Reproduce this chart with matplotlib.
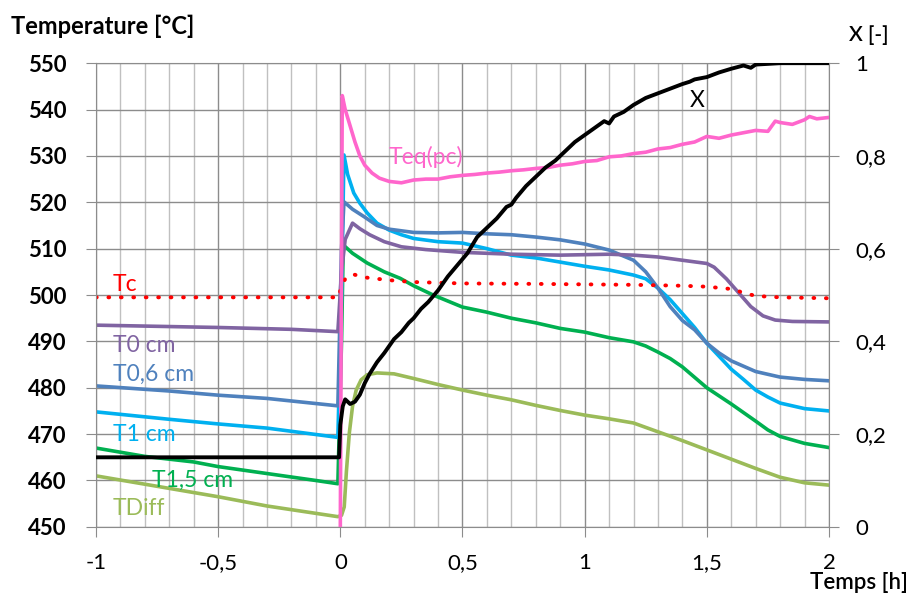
import matplotlib
matplotlib.use("Agg")
import matplotlib.pyplot as plt
from matplotlib.ticker import MultipleLocator

plt.rcParams['font.family'] = ['Lato', 'DejaVu Sans']

# time [h]
t_tc = [-1, -0.005, 0.0, 0.02, 0.05, 0.1, 0.2, 0.3, 0.5, 0.8, 1.0, 1.2, 1.4, 1.5, 1.6, 1.65, 1.7, 1.8, 2.0]
tc = [499.5, 499.5, 501, 503.5, 504.5, 503.8, 503.2, 502.8, 502.5, 502.4, 502.3, 502.2, 502, 501.8, 501.3, 500.5, 499.8, 499.5, 499.3]

t_teq = [0.0, 0.008, 0.02, 0.04, 0.06, 0.08, 0.10, 0.13, 0.16, 0.20, 0.25, 0.30, 0.35, 0.40, 0.45, 0.50,
         0.55, 0.60, 0.65, 0.70, 0.75, 0.80, 0.85, 0.90, 0.95, 1.00, 1.05, 1.10, 1.15, 1.20, 1.25, 1.30,
         1.35, 1.40, 1.45, 1.50, 1.55, 1.60, 1.65, 1.70, 1.75, 1.78, 1.80, 1.85, 1.90, 1.92, 1.95, 2.0]
teq = [450, 543, 540, 536.5, 533, 530, 528, 526.3, 525.2, 524.5, 524.2, 524.8, 525, 525, 525.5, 525.8,
       526, 526.3, 526.5, 526.8, 527, 527.3, 527.5, 528, 528.3, 528.8, 529, 529.8, 530, 530.5, 530.8, 531.5,
       531.8, 532.5, 533, 534.2, 533.8, 534.5, 535, 535.5, 535.3, 537.5, 537.2, 536.8, 537.8, 538.5, 538, 538.3]

t_t0 = [-1, -0.5, -0.2, -0.01, 0.005, 0.02, 0.05, 0.08, 0.12, 0.18, 0.25, 0.35, 0.5, 0.7, 0.9, 1.1, 1.2,
        1.3, 1.4, 1.5, 1.53, 1.58, 1.63, 1.68, 1.73, 1.78, 1.85, 2.0]
t0 = [493.5, 493, 492.6, 492.1, 505, 512, 515.5, 514.3, 513, 511.5, 510.4, 509.8, 509.2, 508.8, 508.6, 508.8, 508.6,
      508.2, 507.5, 506.8, 506, 503.5, 500.5, 497.5, 495.5, 494.6, 494.3, 494.2]

t_t06 = [-1, -0.7, -0.5, -0.3, -0.01, 0.005, 0.015, 0.05, 0.1, 0.15, 0.2, 0.3, 0.4, 0.5, 0.6, 0.7, 0.8, 0.9,
         1.0, 1.1, 1.2, 1.25, 1.3, 1.35, 1.4, 1.45, 1.5, 1.55, 1.6, 1.7, 1.8, 1.9, 2.0]
t06 = [480.4, 479.3, 478.4, 477.7, 476.1, 510, 520.1, 518.5, 516.8, 515, 514.2, 513.5, 513.4, 513.5, 513.2, 513, 512.5, 511.9,
       511, 509.7, 507.5, 505, 501.5, 497.5, 494.5, 492.5, 489.6, 487.5, 485.8, 483.5, 482.3, 481.8, 481.5]

t_t1 = [-1, -0.7, -0.5, -0.3, -0.01, 0.005, 0.015, 0.03, 0.055, 0.08, 0.11, 0.15, 0.2, 0.25, 0.3, 0.4, 0.5, 0.6,
        0.7, 0.8, 0.9, 1.0, 1.1, 1.2, 1.25, 1.3, 1.35, 1.4, 1.45, 1.5, 1.55, 1.6, 1.65, 1.7, 1.75, 1.8, 1.9, 2.0]
t1 = [474.8, 473.2, 472.2, 471.3, 469.3, 500, 530.2, 526, 522, 519.8, 517.7, 515.5, 514, 513, 512.2, 511.5, 511.2, 510,
      508.6, 508, 507.1, 506.2, 505.4, 504.3, 503.5, 501.5, 499, 496, 493, 489.6, 486.8, 484, 481.8, 479.5, 478, 476.7, 475.5, 475]

t_t15 = [-1, -0.8, -0.6, -0.5, -0.3, -0.1, -0.01, 0.005, 0.012, 0.05, 0.11, 0.18, 0.245, 0.3, 0.38, 0.5, 0.6,
         0.7, 0.8, 0.9, 1.0, 1.1, 1.2, 1.25, 1.3, 1.35, 1.4, 1.5, 1.6, 1.7, 1.75, 1.8, 1.9, 2.0]
t15 = [467, 465.2, 464, 463, 461.5, 460, 459.3, 490, 510.8, 509, 506.9, 505, 503.6, 502, 500, 497.4, 496.3,
       495, 494, 492.8, 492, 490.8, 489.9, 489, 487.7, 486.3, 484.5, 480, 476.5, 472.8, 470.9, 469.5, 468, 467.1]

t_diff = [-1, -0.7, -0.5, -0.3, -0.01, 0.005, 0.016, 0.025, 0.037, 0.05, 0.065, 0.085, 0.11, 0.15, 0.22, 0.3,
          0.4, 0.5, 0.6, 0.7, 0.8, 0.9, 1.0, 1.1, 1.2, 1.3, 1.4, 1.5, 1.6, 1.7, 1.8, 1.9, 2.0]
tdiff = [461, 458.3, 456.5, 454.5, 452.2, 452.5, 454.3, 462, 470.3, 476, 479.5, 481.7, 482.8, 483.2, 483, 482,
         480.7, 479.5, 478.4, 477.4, 476.2, 475.1, 474.1, 473.3, 472.4, 470.5, 468.6, 466.6, 464.6, 462.6, 460.7, 459.5, 459]

# conversion X (right axis)
t_x = [-1, -0.005, 0.0, 0.01, 0.02, 0.04, 0.06, 0.08, 0.10, 0.12, 0.15, 0.18, 0.20, 0.22, 0.25, 0.28, 0.30,
       0.33, 0.36, 0.40, 0.44, 0.48, 0.52, 0.56, 0.60, 0.64, 0.68, 0.70, 0.72, 0.76, 0.80, 0.84, 0.88, 0.90,
       0.92, 0.96, 1.00, 1.04, 1.08, 1.10, 1.12, 1.16, 1.20, 1.25, 1.30, 1.35, 1.40, 1.43, 1.45, 1.50, 1.55,
       1.60, 1.65, 1.68, 1.70, 1.80, 1.90, 2.0]
conv = [0.15, 0.15, 0.22, 0.26, 0.275, 0.265, 0.27, 0.285, 0.31, 0.33, 0.355, 0.375, 0.39, 0.405, 0.42, 0.44, 0.45,
        0.47, 0.485, 0.51, 0.54, 0.565, 0.59, 0.625, 0.645, 0.665, 0.69, 0.695, 0.71, 0.735, 0.755, 0.775, 0.79, 0.80,
        0.81, 0.83, 0.845, 0.86, 0.875, 0.87, 0.885, 0.895, 0.91, 0.925, 0.935, 0.945, 0.955, 0.96, 0.965, 0.97, 0.98,
        0.988, 0.995, 0.99, 0.997, 1.0, 1.0, 1.0]

xticks = [-1, -0.5, 0, 0.5, 1, 1.5, 2]
xtick_labels = ['-1', '-0,5', '0', '0,5', '1', '1,5', '2']
yticks = [450, 460, 470, 480, 490, 500, 510, 520, 530, 540, 550]
y2ticks = [0, 0.2, 0.4, 0.6, 0.8, 1]
y2tick_labels = ['0', '0,2', '0,4', '0,6', '0,8', '1']

fig = plt.figure(figsize=(9.14, 5.96), dpi=100)
ax = fig.add_axes([0.105, 0.116, 0.802, 0.778])

lw = 2.6
ax.plot(t_diff, tdiff, color='#9BBB59', lw=lw)
ax.plot(t_t15, t15, color='#00B050', lw=lw)
ax.plot(t_t1, t1, color='#00B0F0', lw=lw)
ax.plot(t_t06, t06, color='#4F81BD', lw=lw)
ax.plot(t_t0, t0, color='#8064A2', lw=lw)
ax.plot(t_tc, tc, color='#FF0000', lw=2.8, linestyle=(0, (0.2, 3.0)), dash_capstyle='round')
ax.plot(t_teq, teq, color='#FF66CC', lw=lw)

ax.set_xlim(-1, 2)
ax.set_ylim(450, 550)
ax.set_xticks(xticks)
ax.set_xticklabels(xtick_labels)
ax.xaxis.set_minor_locator(MultipleLocator(0.1))
ax.set_yticks(yticks)
ax.grid(True, which='major', color='#8C8C8C', lw=1)
ax.grid(True, which='minor', axis='x', color='#C0C0C0', lw=1)
ax.set_axisbelow(True)
for s in ax.spines.values():
    s.set_color('#8C8C8C')
ax.tick_params(axis='both', which='major', length=7, color='#8C8C8C', labelsize=16)
ax.tick_params(axis='x', which='minor', length=0)
ax.tick_params(axis='x', pad=12)
ax.tick_params(axis='y', pad=14)
for lb in ax.get_yticklabels():
    lb.set_fontweight('bold')

ax2 = ax.twinx()
ax2.plot(t_x, conv, color='black', lw=2.8)
ax2.set_ylim(0, 1)
ax2.set_yticks(y2ticks)
ax2.set_yticklabels(y2tick_labels)
for s in ax2.spines.values():
    s.set_visible(False)
ax2.tick_params(axis='y', length=7, color='#8C8C8C', labelsize=16, pad=12)

fig.text(0.012, 0.955, 'Temperature [°C]', fontsize=17, fontweight='bold', va='center', ha='left')
fig.text(0.95, 0.941, 'X [-]', fontsize=15, fontweight='semibold', va='center', ha='center')
fig.text(0.993, 0.023, 'Temps [h]', fontsize=16, fontweight='semibold', va='center', ha='right')

lab = dict(fontsize=16.5, va='center')
ax.text(-0.93, 502.2, 'Tc', color='#FF0000', **lab)
ax.text(0.35, 529.7, 'Teq(pc)', color='#FF66CC', ha='center', **lab)
ax.text(1.46, 542, 'X', color='black', ha='center', **lab)
ax.text(-0.93, 489.2, 'T0 cm', color='#8064A2', **lab)
ax.text(-0.93, 483, 'T0,6 cm', color='#4F81BD', **lab)
ax.text(-0.93, 470, 'T1 cm', color='#00B0F0', **lab)
ax.text(-0.77, 460, 'T1,5 cm', color='#00B050', **lab)
ax.text(-0.93, 454, 'TDiff', color='#9BBB59', **lab)

fig.savefig('out.png', dpi=100)
